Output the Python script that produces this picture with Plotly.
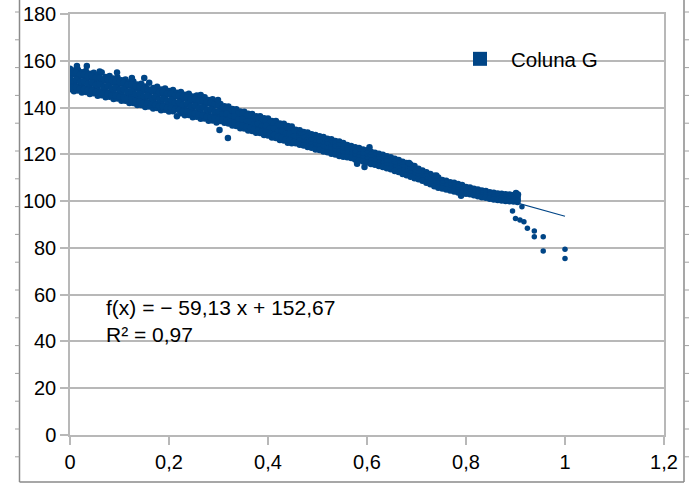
import plotly.graph_objects as go

# ---- data ----
x_cols = [0.000, 0.008, 0.016, 0.024, 0.032, 0.040, 0.048, 0.056, 0.064, 0.072,
          0.080, 0.088, 0.096, 0.104, 0.112, 0.120, 0.128, 0.136, 0.144, 0.152,
          0.160, 0.168, 0.176, 0.184, 0.192, 0.200, 0.208, 0.216, 0.224, 0.232,
          0.240, 0.248, 0.256, 0.264, 0.272, 0.280, 0.288, 0.296, 0.304, 0.312,
          0.320, 0.328, 0.336, 0.344, 0.352, 0.360, 0.368, 0.376, 0.384, 0.392,
          0.400, 0.408, 0.416, 0.424, 0.432, 0.440, 0.448, 0.456, 0.464, 0.472,
          0.480, 0.488, 0.496, 0.504, 0.512, 0.520, 0.528, 0.536, 0.544, 0.552,
          0.560, 0.568, 0.576, 0.584, 0.592, 0.600, 0.608, 0.616, 0.624, 0.632,
          0.640, 0.648, 0.656, 0.664, 0.672, 0.680, 0.688, 0.696, 0.704, 0.712,
          0.720, 0.728, 0.736, 0.744, 0.752, 0.760, 0.768, 0.776, 0.784, 0.792,
          0.800, 0.808, 0.816, 0.824, 0.832, 0.840, 0.848, 0.856, 0.864, 0.872,
          0.880, 0.888, 0.896, 0.904]

y_top = [156.6, 155.8, 156.2, 155.1, 155.6, 154.5, 154.9, 153.8, 155.0, 153.1,
         153.5, 152.4, 152.9, 151.7, 152.0, 150.8, 151.1, 149.9, 150.2, 149.0,
         150.6, 148.4, 148.9, 147.7, 148.2, 147.1, 147.5, 146.3, 146.7, 145.5,
         145.9, 144.7, 145.2, 145.4, 144.4, 143.2, 143.6, 142.4, 141.5, 140.6,
         140.4, 139.4, 139.3, 138.3, 138.2, 137.3, 137.2, 136.3, 136.3, 135.4,
         135.3, 134.3, 134.2, 133.2, 133.1, 132.1, 131.9, 130.5, 130.3, 129.6,
         129.3, 128.6, 128.3, 127.7, 127.4, 126.7, 126.4, 125.7, 125.5, 124.8,
         124.0, 123.6, 123.0, 122.7, 122.1, 121.7, 121.1, 120.7, 120.2, 119.8,
         119.2, 118.8, 118.1, 117.6, 116.8, 116.3, 115.6, 115.0, 113.8, 113.1,
         112.3, 111.6, 110.8, 110.1, 109.0, 108.7, 108.1, 107.8, 107.3, 106.9,
         106.0, 105.8, 105.3, 105.0, 104.5, 104.3, 103.8, 103.6, 103.3, 103.2,
         102.9, 102.8, 102.6, 102.5]

y_up = [154.0, 154.4, 153.3, 153.6, 152.5, 152.9, 151.9, 152.2, 151.2, 151.6,
        150.5, 150.9, 149.8, 150.2, 149.0, 149.3, 148.0, 148.4, 147.1, 147.5,
        146.4, 146.9, 145.8, 146.2, 145.1, 145.6, 144.4, 144.8, 143.6, 144.0,
        142.8, 143.2, 142.1, 142.5, 141.3, 141.7, 140.5, 140.9, 139.3, 139.2,
        138.2, 138.0, 137.1, 136.9, 136.0, 135.9, 135.0, 134.9, 134.1, 134.0,
        133.1, 132.9, 132.0, 131.8, 130.9, 130.7, 129.7, 129.2, 128.6, 128.3,
        127.6, 127.3, 126.6, 126.4, 125.7, 125.4, 124.7, 124.4, 123.8, 123.5,
        122.6, 122.2, 121.6, 121.3, 120.7, 120.3, 119.7, 119.3, 118.8, 118.4,
        117.8, 117.4, 116.7, 116.2, 115.4, 114.9, 114.2, 113.6, 112.8, 111.9,
        111.3, 110.4, 109.8, 108.9, 108.2, 107.7, 107.3, 106.8, 106.5, 105.9,
        105.4, 105.0, 104.7, 104.2, 103.9, 103.5, 103.2, 102.8, 102.7, 102.4,
        102.3, 102.0, 102.0, 101.7]

y_mid = [152.3, 151.2, 151.9, 150.6, 151.3, 150.1, 150.7, 149.3, 150.0, 148.6,
         149.3, 147.9, 148.6, 147.2, 147.7, 146.3, 146.8, 145.4, 145.9, 144.5,
         145.2, 143.9, 144.6, 143.2, 143.9, 142.6, 143.2, 141.8, 142.4, 141.0,
         141.6, 140.2, 140.9, 139.5, 140.1, 138.7, 139.3, 137.9, 138.0, 136.8,
         137.0, 135.6, 135.9, 134.5, 134.8, 133.5, 133.8, 132.5, 132.9, 131.6,
         131.9, 130.5, 130.8, 129.4, 129.7, 128.3, 128.5, 127.9, 126.9, 127.0,
         125.9, 126.0, 124.9, 125.1, 124.0, 124.1, 123.0, 123.1, 122.1, 122.2,
         121.7, 120.6, 120.7, 119.7, 119.8, 118.7, 118.8, 117.7, 117.9, 116.8,
         116.9, 115.8, 115.8, 114.6, 114.5, 113.3, 113.3, 112.0, 111.9, 110.5,
         110.4, 109.0, 108.9, 107.5, 107.4, 106.6, 106.5, 105.7, 105.7, 104.8,
         104.8, 104.1, 104.1, 103.3, 103.3, 102.6, 102.6, 101.9, 102.1, 101.5,
         101.7, 101.1, 101.4, 100.8]

y_low = [149.5, 149.9, 148.8, 149.2, 148.2, 148.6, 147.6, 147.9, 146.9, 147.2,
         146.2, 146.5, 145.5, 145.8, 144.6, 144.9, 143.7, 144.0, 142.8, 143.1,
         142.1, 142.5, 141.5, 141.8, 140.8, 141.2, 140.1, 140.4, 139.3, 139.6,
         138.5, 138.8, 137.8, 138.1, 137.0, 137.3, 136.2, 136.5, 135.7, 135.6,
         134.6, 134.4, 133.5, 133.3, 132.4, 132.3, 131.4, 131.3, 130.5, 130.4,
         129.5, 129.3, 128.4, 128.2, 127.3, 127.1, 126.1, 126.1, 125.8, 125.2,
         124.8, 124.2, 123.8, 123.3, 122.9, 122.3, 121.9, 121.3, 121.0, 120.4,
         120.1, 119.7, 119.1, 118.8, 118.2, 117.8, 117.2, 116.8, 116.3, 115.9,
         115.3, 114.9, 114.2, 113.7, 112.9, 112.4, 111.7, 111.1, 110.5, 109.8,
         109.0, 108.3, 107.5, 106.8, 106.3, 106.0, 105.4, 105.1, 104.6, 104.2,
         103.9, 103.7, 103.2, 102.9, 102.4, 102.2, 101.7, 101.5, 101.2, 101.1,
         100.8, 100.7, 100.5, 100.4]

y_bot = [147.8, 147.0, 147.3, 146.4, 146.6, 145.8, 146.1, 145.1, 145.3, 144.4,
         144.6, 143.7, 143.9, 142.9, 142.9, 142.0, 142.0, 141.1, 141.1, 140.2,
         140.4, 139.6, 139.8, 138.9, 139.1, 138.3, 138.4, 136.3, 137.6, 136.7,
         136.8, 135.9, 136.1, 135.2, 135.3, 134.4, 134.5, 133.6, 134.3, 133.5,
         133.2, 132.3, 132.1, 131.2, 131.0, 130.2, 130.0, 129.2, 129.1, 128.3,
         128.1, 127.2, 127.0, 126.1, 125.9, 125.0, 124.7, 124.7, 124.1, 123.8,
         123.1, 122.8, 122.1, 121.9, 121.2, 120.9, 120.2, 119.9, 119.3, 119.0,
         118.8, 118.4, 117.8, 117.5, 116.9, 116.5, 115.9, 115.5, 115.0, 114.6,
         114.0, 113.6, 112.9, 112.4, 111.6, 111.1, 110.4, 109.8, 109.4, 108.7,
         107.9, 107.2, 106.4, 105.7, 105.4, 105.0, 104.5, 104.1, 103.7, 103.2,
         103.2, 102.9, 102.5, 102.1, 101.7, 101.4, 101.0, 100.7, 100.5, 100.3,
         100.1, 99.9, 99.8, 99.6]

# denser left part of the cloud (between the columns above)
x_half = [0.004, 0.012, 0.020, 0.028, 0.036, 0.044, 0.052, 0.060, 0.068, 0.076,
          0.084, 0.092, 0.100, 0.108, 0.116, 0.124, 0.132, 0.140, 0.148, 0.156,
          0.164, 0.172, 0.180, 0.188, 0.196, 0.204, 0.212, 0.220, 0.228, 0.236,
          0.244, 0.252, 0.260, 0.268, 0.276, 0.284, 0.292, 0.300, 0.308, 0.316,
          0.324, 0.332, 0.340, 0.348, 0.356, 0.364, 0.372, 0.380, 0.388, 0.396,
          0.404, 0.412, 0.420, 0.428, 0.436, 0.444, 0.452]

y_half_a = [155.0, 154.9, 154.1, 154.1, 153.5, 153.5, 152.8, 152.8, 152.1, 152.1,
            151.4, 151.4, 150.7, 150.6, 149.8, 149.7, 148.9, 148.8, 148.0, 148.0,
            147.4, 147.4, 146.7, 146.7, 146.0, 146.0, 145.3, 145.2, 144.5, 144.4,
            143.7, 143.7, 143.0, 142.9, 142.2, 142.1, 141.4, 141.2, 139.9, 139.5,
            138.7, 138.4, 137.6, 137.3, 136.5, 136.3, 135.5, 135.3, 134.6, 134.4,
            133.6, 133.3, 132.5, 132.2, 131.4, 131.0, 130.2]

y_half_b = [151.5, 152.0, 150.9, 151.3, 150.2, 150.7, 149.6, 150.0, 148.9, 149.3,
            148.2, 148.6, 147.5, 147.8, 146.6, 146.9, 145.7, 146.0, 144.8, 145.2,
            144.1, 144.6, 143.5, 143.9, 142.8, 143.2, 142.1, 142.4, 141.3, 141.6,
            140.5, 140.9, 139.8, 140.1, 139.0, 139.3, 138.2, 138.4, 137.1, 137.3,
            136.0, 136.2, 134.9, 135.1, 133.8, 134.1, 132.8, 133.1, 131.9, 132.2,
            130.9, 131.1, 129.8, 130.0, 128.7, 128.8, 127.6]

y_half_c = [148.6, 148.6, 148.0, 147.9, 147.3, 147.3, 146.7, 146.6, 146.0, 145.9,
            145.3, 145.2, 144.6, 144.4, 143.7, 143.5, 142.8, 142.6, 141.9, 141.8,
            141.2, 141.2, 140.6, 140.5, 139.9, 139.8, 139.2, 139.0, 138.4, 138.2,
            137.6, 137.5, 136.9, 136.7, 136.1, 135.9, 135.3, 135.0, 134.9, 134.5,
            133.8, 133.4, 132.7, 132.3, 131.7, 131.3, 130.6, 130.3, 129.8, 129.4,
            128.7, 128.3, 127.6, 127.2, 126.5, 126.0, 125.3]

extra_x = [0.014, 0.034, 0.060, 0.095, 0.125, 0.150, 0.299, 0.302, 0.319,
           0.580, 0.595, 0.605, 0.685, 0.740, 0.790, 0.901, 0.905]
extra_y = [157.8, 157.8, 155.4, 155.0, 152.6, 152.6, 143.2, 130.4, 127.0,
           116.0, 114.6, 123.0, 116.3, 111.0, 102.3, 103.5, 102.8]

tail_x = [0.894, 0.900, 0.909, 0.913, 0.917, 0.924, 0.938, 0.938, 0.956, 0.956, 1.000, 1.000]
tail_y = [95.8, 92.6, 91.9, 97.6, 91.2, 88.4, 87.2, 84.8, 84.8, 78.7, 79.4, 75.5]

trend_x = [0.0, 1.0]
trend_y = [152.67, 93.54]

series_name = "Coluna G"
equation_text = "f(x) = − 59,13 x + 152,67<br>R² = 0,97"

x_ticks = [0, 0.2, 0.4, 0.6, 0.8, 1, 1.2]
y_ticks = [0, 20, 40, 60, 80, 100, 120, 140, 160, 180]

# ---- assemble ----
band_x = []
band_y = []
for ys in (y_top, y_up, y_mid, y_low, y_bot):
    band_x += x_cols
    band_y += ys
for ys in (y_half_a, y_half_b, y_half_c):
    band_x += x_half
    band_y += ys
band_x += extra_x
band_y += extra_y

BLUE = "#004586"
GRID = "#b8b8b8"
FONT = "Liberation Sans"

fig = go.Figure()
fig.add_trace(go.Scatter(x=trend_x, y=trend_y, mode="lines",
                         line=dict(color=BLUE, width=1.2), showlegend=False,
                         hoverinfo="skip"))
fig.add_trace(go.Scatter(x=band_x, y=band_y, mode="markers",
                         marker=dict(color=BLUE, size=6.5, symbol="circle", line=dict(width=0)),
                         showlegend=False))
fig.add_trace(go.Scatter(x=tail_x, y=tail_y, mode="markers",
                         marker=dict(color=BLUE, size=5.5, symbol="circle", line=dict(width=0)),
                         showlegend=False))
fig.add_trace(go.Scatter(x=[None], y=[None], mode="markers", name=series_name,
                         marker=dict(color=BLUE, size=14, symbol="square", line=dict(width=0)),
                         showlegend=True))

fig.add_annotation(x=0.0685, y=60.2, xref="x", yref="y", xanchor="left", yanchor="top",
                   text=equation_text, showarrow=False, align="left",
                   font=dict(family=FONT, size=21, color="#000000"))

# screenshot frame lines around the chart
frame = dict(color="#8a8a8a", width=1.5)
x_left = (19.5 - 70) / 594
x_right = (684 - 70) / 594
y_bottom = (435 - 482) / 421
y_topp = (435 - 0) / 421
fig.add_shape(type="line", xref="paper", yref="paper", x0=x_left, x1=x_left,
              y0=y_bottom, y1=y_topp, line=frame)
fig.add_shape(type="line", xref="paper", yref="paper", x0=x_right, x1=x_right,
              y0=y_bottom, y1=y_topp, line=frame)
fig.add_shape(type="line", xref="paper", yref="paper", x0=x_left, x1=x_right,
              y0=y_bottom, y1=y_bottom, line=frame)
py = 12.0
while py < 480:
    yp = (435 - py) / 421
    fig.add_shape(type="line", xref="paper", yref="paper", x0=(15 - 70) / 594, x1=x_left,
                  y0=yp, y1=yp, line=dict(color="#a0a0a0", width=1))
    fig.add_shape(type="line", xref="paper", yref="paper", x0=x_right, x1=(689 - 70) / 594,
                  y0=yp, y1=yp, line=dict(color="#a0a0a0", width=1))
    py += 27.8

fig.update_layout(
    width=689, height=485,
    margin=dict(l=70, r=25, t=14, b=50, autoexpand=False),
    paper_bgcolor="white", plot_bgcolor="white",
    separators=",.",
    font=dict(family=FONT, size=20, color="#000000"),
    showlegend=True,
    legend=dict(x=(449 - 70) / 594, y=(435 - 59) / 421, xanchor="left", yanchor="middle",
                bgcolor="rgba(0,0,0,0)", itemwidth=52, itemsizing="trace",
                font=dict(family=FONT, size=20.5, color="#000000")),
    xaxis=dict(range=[0, 1.2], tickvals=x_ticks, showgrid=False, zeroline=False,
               showline=True, linecolor=GRID, linewidth=1.5, mirror=True, automargin=False,
               ticks="outside", ticklen=8, tickcolor=GRID, tickwidth=1.5,
               tickfont=dict(family=FONT, size=20)),
    yaxis=dict(range=[0, 180], tickvals=y_ticks, showgrid=True, gridcolor=GRID, gridwidth=1.5,
               zeroline=False, showline=True, linecolor=GRID, linewidth=1.5, mirror=True,
               automargin=False,
               ticks="outside", ticklen=8, tickcolor=GRID, tickwidth=1.5,
               tickfont=dict(family=FONT, size=20)),
)

fig.write_html("out.html")
